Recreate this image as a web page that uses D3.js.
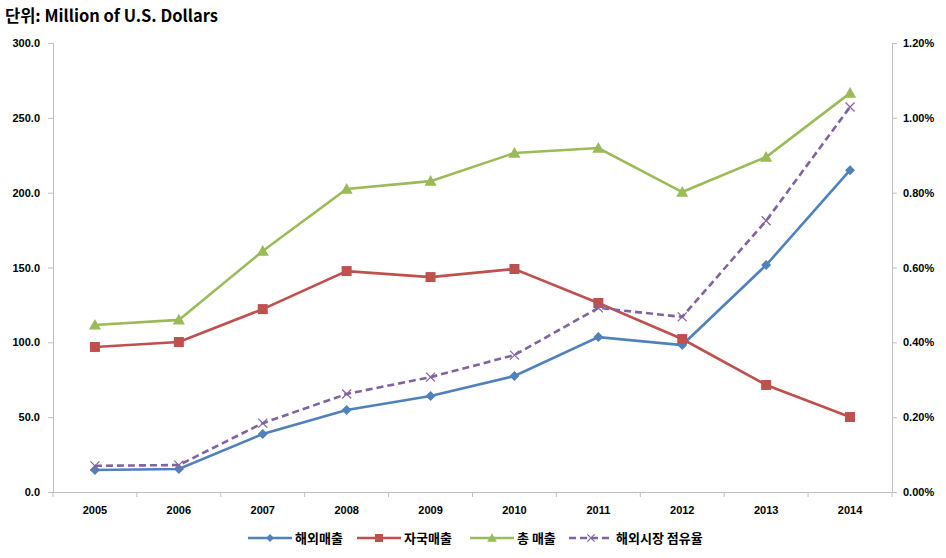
<!DOCTYPE html>
<html>
<head>
<meta charset="utf-8">
<script src="https://cdn.jsdelivr.net/npm/d3@7"></script>
<style>
  body { margin: 0; background: #fff; }
  svg { font-family: "Noto Sans CJK KR", "Noto Sans", sans-serif; }
  .tick text { font-weight: bold; font-size: 11px; fill: #000; }
</style>
</head>
<body>
<div id="chart"></div>
<script>
/* ---------- data ---------- */
const years = ['2005','2006','2007','2008','2009','2010','2011','2012','2013','2014'];
const foreignSales  = [14.7, 15.4, 38.7, 54.8, 64.1, 77.5, 103.5, 98.2, 151.6, 215.0];
const domesticSales = [96.9, 100.2, 122.2, 147.6, 143.6, 149.0, 126.3, 102.2, 71.5, 50.1];
const totalSales    = [111.6, 115.0, 161.0, 202.4, 207.7, 226.5, 229.8, 200.4, 223.8, 266.5];
const foreignShare  = [0.0007, 0.00072, 0.00184, 0.00262, 0.00307, 0.00366, 0.00492, 0.00468, 0.00725, 0.01029];
const leftTicks  = [0, 50, 100, 150, 200, 250, 300];
const rightTicks = [0, 0.002, 0.004, 0.006, 0.008, 0.010, 0.012];

const series = [
  { name: '해외매출', values: foreignSales, color: '#4F81BD', marker: 'diamond', axis: 'left' },
  { name: '자국매출', values: domesticSales, color: '#C0504D', marker: 'square', axis: 'left' },
  { name: '총 매출', values: totalSales, color: '#9BBB59', marker: 'triangle', axis: 'left' },
  { name: '해외시장 점유율', values: foreignShare, color: '#8064A2', marker: 'cross', axis: 'right', dash: '7,4' }
];

/* ---------- layout ---------- */
const W = 946, H = 558;
const m = { left: 53, right: 54, top: 43, bottom: 66 };
const innerR = W - m.right, innerB = H - m.bottom;

const svg = d3.select('#chart').append('svg').attr('width', W).attr('height', H);

const x = d3.scaleBand().domain(years).range([m.left, innerR]).padding(0);
const yL = d3.scaleLinear().domain([0, 300]).range([innerB, m.top]);
const yR = d3.scaleLinear().domain([0, 0.012]).range([innerB, m.top]);

// title
svg.append('text')
  .attr('x', 5).attr('y', 22)
  .attr('font-size', 16.5).attr('font-weight', 'bold')
  .text('단위: Million of U.S. Dollars');

// axes
const axisColor = '#BFBFBF';
const gL = svg.append('g').attr('transform', `translate(${m.left},0)`)
  .call(d3.axisLeft(yL).tickValues(leftTicks).tickFormat(d3.format('.1f')).tickSize(5).tickPadding(8));
const gR = svg.append('g').attr('transform', `translate(${innerR},0)`)
  .call(d3.axisRight(yR).tickValues(rightTicks).tickFormat(d3.format('.2%')).tickSize(5).tickPadding(6));
const gX = svg.append('g').attr('transform', `translate(0,${innerB})`)
  .call(d3.axisBottom(x).tickSize(0).tickPadding(14));

// category boundary ticks
svg.append('g').selectAll('line')
  .data(d3.range(years.length + 1))
  .join('line')
    .attr('x1', i => m.left + i * x.step()).attr('x2', i => m.left + i * x.step())
    .attr('y1', innerB).attr('y2', innerB + 5)
    .attr('stroke', axisColor);

[gL, gR, gX].forEach(g => {
  g.select('.domain').attr('stroke', axisColor);
  g.selectAll('.tick line').attr('stroke', axisColor);
});

/* ---------- marks ---------- */
const cx = (d, i) => x(years[i]) + x.bandwidth() / 2;

function drawMarker(g, type, color, size) {
  const s = size / 2;
  if (type === 'diamond') {
    g.append('path').attr('d', `M0,${-s}L${s},0L0,${s}L${-s},0Z`).attr('fill', color);
  } else if (type === 'square') {
    g.append('rect').attr('x', -s).attr('y', -s).attr('width', size).attr('height', size).attr('fill', color);
  } else if (type === 'triangle') {
    g.append('path').attr('d', `M0,${-size * 0.55}L${size * 0.55},${size * 0.42}L${-size * 0.55},${size * 0.42}Z`).attr('fill', color);
  } else if (type === 'cross') {
    g.append('path').attr('d', `M${-s},${-s}L${s},${s}M${-s},${s}L${s},${-s}`)
      .attr('stroke', color).attr('stroke-width', 1.2).attr('fill', 'none');
  }
}
const markerSize = { diamond: 10, square: 10, triangle: 11, cross: 9 };

series.forEach(s => {
  const yS = s.axis === 'left' ? yL : yR;
  const line = d3.line().x((d, i) => cx(d, i)).y(d => yS(d));
  svg.append('path')
    .datum(s.values)
    .attr('d', line)
    .attr('fill', 'none')
    .attr('stroke', s.color)
    .attr('stroke-width', 2.6)
    .attr('stroke-dasharray', s.dash || null);
  svg.append('g').selectAll('g')
    .data(s.values)
    .join('g')
      .attr('transform', (d, i) => `translate(${cx(d, i)},${yS(d)})`)
      .each(function () { drawMarker(d3.select(this), s.marker, s.color, markerSize[s.marker]); });
});

/* ---------- legend ---------- */
const legendX = [248, 357, 470, 569];
const legend = svg.append('g').attr('transform', `translate(0,538)`);
series.forEach((s, i) => {
  const g = legend.append('g').attr('transform', `translate(${legendX[i]},0)`);
  g.append('line').attr('x1', 0).attr('x2', 44).attr('y1', 0).attr('y2', 0)
    .attr('stroke', s.color).attr('stroke-width', 2.6).attr('stroke-dasharray', s.dash || null);
  const mg = g.append('g').attr('transform', 'translate(22,0)');
  drawMarker(mg, s.marker, s.color, markerSize[s.marker] * 0.8);
  g.append('text').attr('x', 47).attr('y', 5)
    .attr('font-size', 13).attr('font-weight', 'bold')
    .text(s.name);
});
</script>
</body>
</html>
